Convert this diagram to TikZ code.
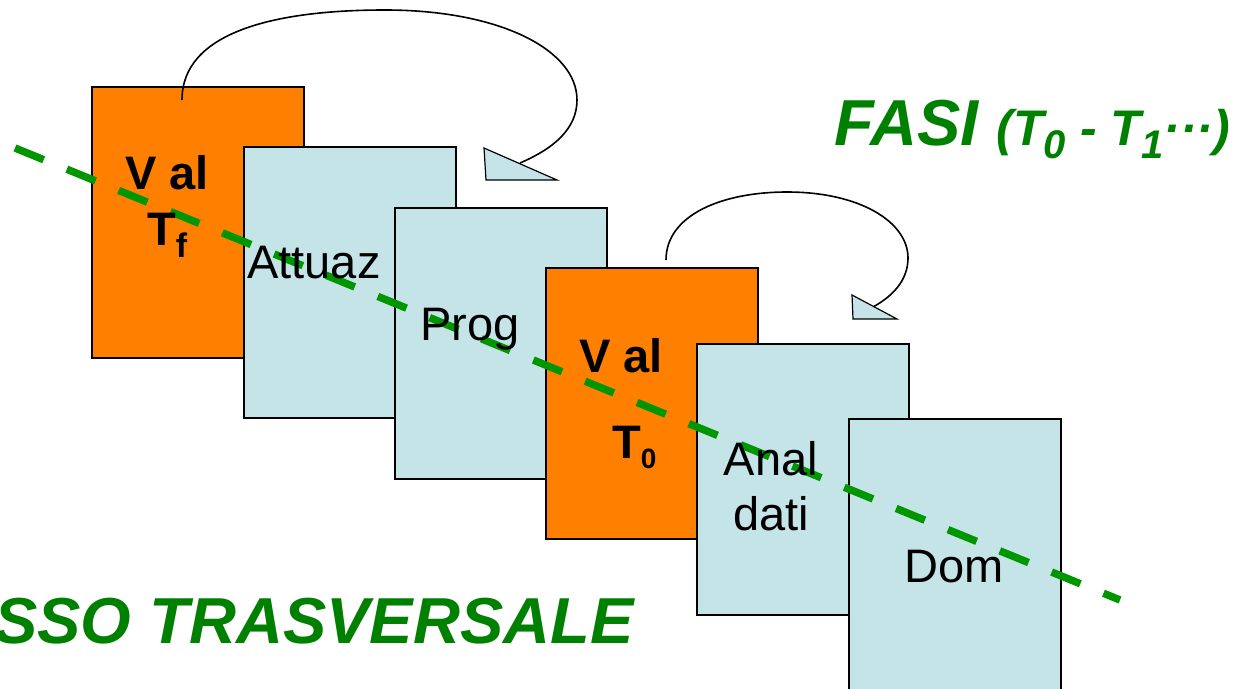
\documentclass[tikz,border=0pt]{standalone}
\usepackage{fontspec}
\setmainfont{Liberation Sans}
\definecolor{boxblue}{RGB}{196,228,232}
\definecolor{boxorange}{RGB}{255,128,0}
\definecolor{titlegreen}{RGB}{0,128,0}
\definecolor{axisgreen}{RGB}{0,150,0}
\pgfdeclarelayer{labels}
\pgfsetlayers{main,labels}
% lowered, smaller index text
\newcommand\lowsub[3]{\raisebox{-#1}{\fontsize{#2}{#2}\selectfont #3}}

\begin{document}
\begin{tikzpicture}[x=1pt,y=-1pt,
  card/.style={draw=black,line width=1.5pt,minimum width=212pt,minimum height=271pt,
    inner sep=0pt,anchor=north west},
  bluecard/.style={card,fill=boxblue},
  orangecard/.style={card,fill=boxorange},
  boldlabel/.style={font=\fontsize{47}{50}\selectfont\bfseries,inner sep=0pt,anchor=base},
  plainlabel/.style={font=\fontsize{47}{50}\selectfont,inner sep=0pt,anchor=base},
  titlelabel/.style={font=\fontsize{65}{70}\selectfont\bfseries\itshape,text=titlegreen,
    inner sep=0pt,anchor=base west},
  axisline/.style={draw=axisgreen,line width=7.5pt,dash pattern=on 31pt off 25pt},
  loop/.style={draw=black,line width=1.6pt},
  loophead/.style={draw=black,line width=1.2pt,fill=boxblue,line join=miter}]

\useasboundingbox (0,0) rectangle (1241,688);

% the six phase cards, back to front
\node[orangecard] (valf) at (91,86) {};
\node[bluecard]   (attuaz) at (243,146) {};
\node[bluecard]   (prog) at (394,207) {};
\node[orangecard] (valz) at (545,267) {};
\node[bluecard]   (anal) at (696,343) {};
\node[bluecard]   (dom) at (848,418) {};

% feedback loops
\coordinate (loopAs) at (182,100);
\coordinate (loopAe) at (520,163);
\draw[loop] (loopAs) .. controls (182,32) and (275,10) .. (385,10)
  .. controls (500,10) and (577,50) .. (577,100)
  .. controls (577,128) and (555,148) .. (loopAe);
\draw[loophead] (484,148) -- (486,180) -- (557,180) -- cycle;

\coordinate (loopBs) at (666,260);
\coordinate (loopBe) at (873,307);
\draw[loop] (loopBs) .. controls (666,215) and (722,192) .. (787,192)
  .. controls (860,192) and (908,222) .. (908,258)
  .. controls (908,280) and (893,296) .. (loopBe);
\draw[loophead] (852,295) -- (853,319) -- (897,319) -- cycle;

% transversal axis
\coordinate (axA) at (15,148);
\coordinate (axB) at (1120,600);
\draw[axisline] (axA) -- (axB);

\begin{pgfonlayer}{labels}
\node[boldlabel] (valftxt) at (167,189) {V al};
\node[boldlabel,anchor=base west] (tftxt) at (147,245) {T\lowsub{12pt}{34}{f}};
\node[plainlabel] (attuaztxt) at (314,278) {Attuaz};
\node[plainlabel] (progtxt) at (470,340) {Prog};
\node[boldlabel] (valztxt) at (621,372) {V al};
\node[boldlabel,anchor=base west] (tztxt) at (612,458) {T\lowsub{10pt}{28}{0}};
\node[plainlabel] (analtxt) at (771,475) {Anal};
\node[plainlabel] (datitxt) at (771,530) {dati};
\node[plainlabel] (domtxt) at (954,582) {Dom};

\node[titlelabel] (fasi) at (834,145)
  {FASI {\fontsize{50}{54}\selectfont (T\lowsub{13pt}{40}{0} - T\lowsub{13pt}{40}{1}···)}};
\node[titlelabel] (asse) at (-6,643) {SSO TRASVERSALE};
\end{pgfonlayer}
\end{tikzpicture}
\end{document}
